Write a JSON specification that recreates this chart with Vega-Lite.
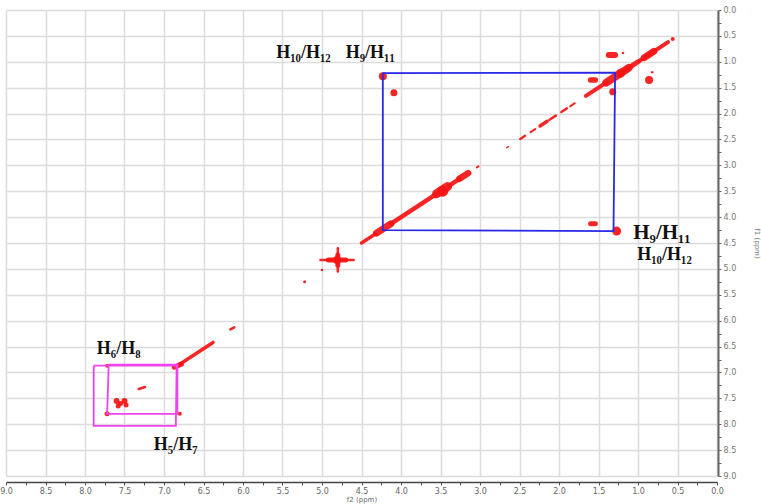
{
  "$schema": "https://vega.github.io/schema/vega-lite/v6.json",
  "width": 711,
  "height": 466,
  "autosize": {"type": "none"},
  "padding": {"left": 6, "top": 10, "right": 44, "bottom": 28},
  "background": "white",
  "config": {"view": {"stroke": null}},
  "datasets": {
    "streaks": [
      {"f2a": 0.62, "f1a": 0.62, "f2b": 0.98, "f1b": 0.98, "w": 4},
      {"f2a": 0.8, "f1a": 0.8, "f2b": 0.92, "f1b": 0.92, "w": 7},
      {"f2a": 1.0, "f1a": 1.0, "f2b": 1.15, "f1b": 1.15, "w": 5},
      {"f2a": 1.12, "f1a": 1.12, "f2b": 1.4, "f1b": 1.4, "w": 8},
      {"f2a": 1.4, "f1a": 1.4, "f2b": 1.66, "f1b": 1.66, "w": 4},
      {"f2a": 1.8, "f1a": 1.8, "f2b": 1.86, "f1b": 1.86, "w": 2},
      {"f2a": 1.9, "f1a": 1.9, "f2b": 1.97, "f1b": 1.97, "w": 2.5},
      {"f2a": 2.04, "f1a": 2.04, "f2b": 2.12, "f1b": 2.12, "w": 2.5},
      {"f2a": 2.15, "f1a": 2.15, "f2b": 2.24, "f1b": 2.24, "w": 3.5},
      {"f2a": 2.3, "f1a": 2.3, "f2b": 2.36, "f1b": 2.36, "w": 2},
      {"f2a": 2.43, "f1a": 2.43, "f2b": 2.49, "f1b": 2.49, "w": 2.5},
      {"f2a": 2.64, "f1a": 2.64, "f2b": 2.66, "f1b": 2.66, "w": 1.5},
      {"f2a": 3.02, "f1a": 3.02, "f2b": 3.04, "f1b": 3.04, "w": 2},
      {"f2a": 3.15, "f1a": 3.15, "f2b": 3.26, "f1b": 3.26, "w": 6.5},
      {"f2a": 3.26, "f1a": 3.26, "f2b": 3.4, "f1b": 3.4, "w": 4.5},
      {"f2a": 3.41, "f1a": 3.41, "f2b": 3.55, "f1b": 3.55, "w": 9},
      {"f2a": 3.56, "f1a": 3.56, "f2b": 4.12, "f1b": 4.12, "w": 4.5},
      {"f2a": 4.13, "f1a": 4.13, "f2b": 4.31, "f1b": 4.31, "w": 7},
      {"f2a": 4.32, "f1a": 4.32, "f2b": 4.5, "f1b": 4.5, "w": 3.5},
      {"f2a": 4.6, "f1a": 4.83, "f2b": 5.02, "f1b": 4.83, "w": 2.5},
      {"f2a": 4.8, "f1a": 4.6, "f2b": 4.8, "f1b": 5.05, "w": 2.5},
      {"f2a": 4.7, "f1a": 4.83, "f2b": 4.92, "f1b": 4.83, "w": 5},
      {"f2a": 4.8, "f1a": 4.73, "f2b": 4.8, "f1b": 4.93, "w": 5},
      {"f2a": 6.11, "f1a": 6.13, "f2b": 6.16, "f1b": 6.17, "w": 2.5},
      {"f2a": 6.38, "f1a": 6.42, "f2b": 6.82, "f1b": 6.86, "w": 3.5},
      {"f2a": 6.78, "f1a": 6.84, "f2b": 6.87, "f1b": 6.9, "w": 5},
      {"f2a": 7.24, "f1a": 7.28, "f2b": 7.32, "f1b": 7.32, "w": 2.5},
      {"f2a": 1.37, "f1a": 0.87, "f2b": 1.29, "f1b": 0.87, "w": 6},
      {"f2a": 1.6, "f1a": 1.35, "f2b": 1.54, "f1b": 1.35, "w": 5.5},
      {"f2a": 1.6, "f1a": 4.13, "f2b": 1.54, "f1b": 4.13, "w": 5}
    ],
    "peaks": [
      {"f2": 0.56, "f1": 0.56, "d": 4},
      {"f2": 1.19, "f1": 0.83, "d": 2.5},
      {"f2": 0.86, "f1": 1.35, "d": 8},
      {"f2": 0.82, "f1": 1.2, "d": 2.5},
      {"f2": 1.32, "f1": 1.58, "d": 7},
      {"f2": 4.23, "f1": 1.28, "d": 8},
      {"f2": 4.09, "f1": 1.6, "d": 7},
      {"f2": 1.27, "f1": 4.27, "d": 9},
      {"f2": 1.22, "f1": 1.22, "d": 9},
      {"f2": 3.47, "f1": 3.5, "d": 11},
      {"f2": 4.81, "f1": 4.83, "d": 8},
      {"f2": 5.0, "f1": 5.02, "d": 2.5},
      {"f2": 5.22, "f1": 5.25, "d": 3},
      {"f2": 7.72, "f1": 6.87, "d": 4},
      {"f2": 6.8, "f1": 7.8, "d": 4},
      {"f2": 7.72, "f1": 7.8, "d": 5},
      {"f2": 7.6, "f1": 7.55, "d": 6},
      {"f2": 7.5, "f1": 7.55, "d": 6},
      {"f2": 7.58, "f1": 7.65, "d": 5},
      {"f2": 7.48, "f1": 7.63, "d": 5},
      {"f2": 7.55, "f1": 7.6, "d": 5}
    ],
    "boxes": [
      {"box": "blue", "ord": 0, "f2": 4.23, "f1": 1.22},
      {"box": "blue", "ord": 1, "f2": 1.29, "f1": 1.21},
      {"box": "blue", "ord": 2, "f2": 1.31, "f1": 4.27},
      {"box": "blue", "ord": 3, "f2": 4.23, "f1": 4.25},
      {"box": "blue", "ord": 4, "f2": 4.23, "f1": 1.22},
      {"box": "magA", "ord": 0, "f2": 7.89, "f1": 6.87},
      {"box": "magA", "ord": 1, "f2": 6.84, "f1": 6.87},
      {"box": "magA", "ord": 2, "f2": 6.85, "f1": 8.03},
      {"box": "magA", "ord": 3, "f2": 7.89, "f1": 8.03},
      {"box": "magA", "ord": 4, "f2": 7.89, "f1": 6.87},
      {"box": "magB", "ord": 0, "f2": 7.7, "f1": 6.85},
      {"box": "magB", "ord": 1, "f2": 6.83, "f1": 6.85},
      {"box": "magB", "ord": 2, "f2": 6.83, "f1": 7.8},
      {"box": "magB", "ord": 3, "f2": 7.72, "f1": 7.8},
      {"box": "magB", "ord": 4, "f2": 7.7, "f1": 6.85}
    ],
    "labels": [
      {"grp": "top", "text": "H₁₀/H₁₂", "f2": 5.58, "f1": 0.83},
      {"grp": "top", "text": "H₉/H₁₁", "f2": 4.7, "f1": 0.83},
      {"grp": "big", "text": "H₉/H₁₁", "f2": 1.06, "f1": 4.3},
      {"grp": "mid", "text": "H₁₀/H₁₂", "f2": 1.01, "f1": 4.74},
      {"grp": "mid", "text": "H₆/H₈", "f2": 7.85, "f1": 6.54},
      {"grp": "mid", "text": "H₅/H₇", "f2": 7.13, "f1": 8.41}
    ]
  },
  "layer": [
    {
      "data": {"name": "streaks"},
      "mark": {"type": "rule", "color": "#f51414", "strokeCap": "round", "opacity": 0.92},
      "encoding": {
        "x": {
          "field": "f2a", "type": "quantitative",
          "scale": {"domain": [0, 9], "reverse": true, "nice": false, "zero": false},
          "axis": {
            "orient": "bottom",
            "offset": 6,
            "tickCount": 60,
            "values": [0, 0.25, 0.5, 0.75, 1, 1.25, 1.5, 1.75, 2, 2.25, 2.5, 2.75, 3, 3.25, 3.5, 3.75, 4, 4.25, 4.5, 4.75, 5, 5.25, 5.5, 5.75, 6, 6.25, 6.5, 6.75, 7, 7.25, 7.5, 7.75, 8, 8.25, 8.5, 8.75, 9],
            "labelExpr": "(datum.value * 4) % 2 === 0 ? format(datum.value, '.1f') : ''",
            "grid": true,
            "gridColor": "#dcdcdc",
            "gridWidth": 1.5,
            "gridOpacity": {"condition": {"test": "(datum.value * 4) % 2 === 0", "value": 1}, "value": 0},
            "domainColor": "#444",
            "domainWidth": 1.5,
            "tickColor": "#555",
            "tickSize": 3,
            "labelColor": "#666",
            "labelFont": "DejaVu Sans",
            "labelFontSize": 8,
            "labelPadding": 2,
            "labelFlush": false,
            "labelOverlap": false,
            "labelBound": false,
            "title": "f2 (ppm)",
            "titleFont": "DejaVu Sans",
            "titleFontSize": 7,
            "titleFontWeight": "normal",
            "titleColor": "#666",
            "titlePadding": 0
          }
        },
        "y": {
          "field": "f1a", "type": "quantitative",
          "scale": {"domain": [0, 9], "reverse": true, "nice": false, "zero": false},
          "axis": {
            "orient": "right",
            "offset": 1,
            "tickCount": 60,
            "values": [0, 0.25, 0.5, 0.75, 1, 1.25, 1.5, 1.75, 2, 2.25, 2.5, 2.75, 3, 3.25, 3.5, 3.75, 4, 4.25, 4.5, 4.75, 5, 5.25, 5.5, 5.75, 6, 6.25, 6.5, 6.75, 7, 7.25, 7.5, 7.75, 8, 8.25, 8.5, 8.75, 9],
            "labelExpr": "(datum.value * 4) % 2 === 0 ? format(datum.value, '.1f') : ''",
            "grid": true,
            "gridColor": "#dcdcdc",
            "gridWidth": 1.5,
            "gridOpacity": {"condition": {"test": "(datum.value * 4) % 2 === 0", "value": 1}, "value": 0},
            "domainColor": "#666",
            "domainWidth": 2,
            "tickColor": "#666",
            "tickSize": 3,
            "labelColor": "#777",
            "labelFont": "DejaVu Sans",
            "labelFontSize": 8,
            "labelPadding": 2,
            "labelFlush": false,
            "labelOverlap": false,
            "labelBound": false,
            "title": "f1 (ppm)",
            "titleFont": "DejaVu Sans",
            "titleFontSize": 7,
            "titleFontWeight": "normal",
            "titleColor": "#777",
            "titlePadding": 18
          }
        },
        "x2": {"field": "f2b"},
        "y2": {"field": "f1b"},
        "strokeWidth": {"field": "w", "type": "quantitative", "scale": {"domain": [0, 10], "range": [0, 10]}, "legend": null}
      }
    },
    {
      "data": {"name": "peaks"},
      "mark": {"type": "point", "shape": "circle", "filled": true, "color": "#f51414", "opacity": 0.92},
      "encoding": {
        "x": {"field": "f2", "type": "quantitative"},
        "y": {"field": "f1", "type": "quantitative"},
        "size": {"field": "d", "type": "quantitative", "scale": {"type": "pow", "exponent": 2, "domain": [0, 10], "range": [0, 100]}, "legend": null}
      }
    },
    {
      "data": {"name": "boxes"},
      "mark": {"type": "line", "strokeWidth": 1.8},
      "encoding": {
        "x": {"field": "f2", "type": "quantitative"},
        "y": {"field": "f1", "type": "quantitative"},
        "order": {"field": "ord", "type": "quantitative"},
        "detail": {"field": "box"},
        "color": {"field": "box", "type": "nominal", "scale": {"domain": ["blue", "magA", "magB"], "range": ["#2828e6", "#ee44ee", "#ee44ee"]}, "legend": null}
      }
    },
    {
      "data": {"name": "labels"},
      "transform": [{"filter": "datum.grp === 'top'"}],
      "mark": {"type": "text", "align": "left", "baseline": "middle", "font": "Liberation Serif", "fontWeight": "bold", "fontSize": 18, "color": "#111"},
      "encoding": {
        "x": {"field": "f2", "type": "quantitative"},
        "y": {"field": "f1", "type": "quantitative"},
        "text": {"field": "text"}
      }
    },
    {
      "data": {"name": "labels"},
      "transform": [{"filter": "datum.grp === 'big'"}],
      "mark": {"type": "text", "align": "left", "baseline": "middle", "font": "Liberation Serif", "fontWeight": "bold", "fontSize": 21, "color": "#111"},
      "encoding": {
        "x": {"field": "f2", "type": "quantitative"},
        "y": {"field": "f1", "type": "quantitative"},
        "text": {"field": "text"}
      }
    },
    {
      "data": {"name": "labels"},
      "transform": [{"filter": "datum.grp === 'mid'"}],
      "mark": {"type": "text", "align": "left", "baseline": "middle", "font": "Liberation Serif", "fontWeight": "bold", "fontSize": 18, "color": "#111"},
      "encoding": {
        "x": {"field": "f2", "type": "quantitative"},
        "y": {"field": "f1", "type": "quantitative"},
        "text": {"field": "text"}
      }
    }
  ]
}
